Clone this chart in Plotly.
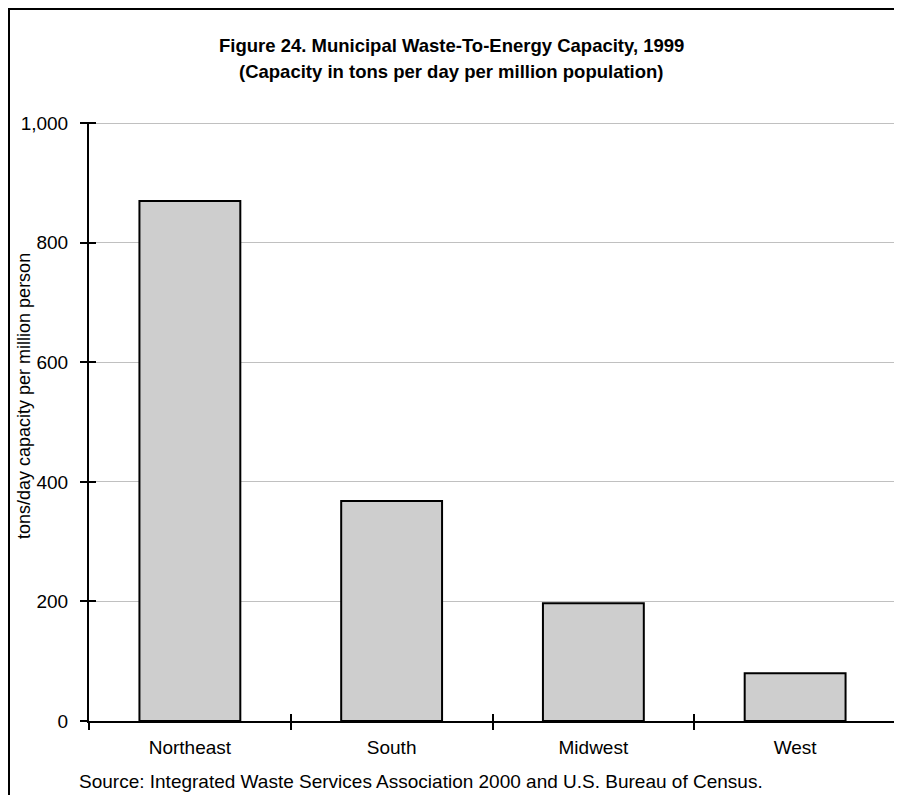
import plotly.graph_objects as go

regions = ["Northeast", "South", "Midwest", "West"]
capacity = [870, 368, 197, 80]
y_ticks = [0, 200, 400, 600, 800, 1000]
y_tick_text = ["0", "200", "400", "600", "800", "1,000"]

FONT = "Arial, Liberation Sans, sans-serif"
# page body has an 8px margin, so the figure is placed at (8, 8)
OFF = 8
W, H = 902 - OFF, 803 - 2 * OFF
L, R, T, B = 89 - OFF, 6, 114, 74
pw, ph = W - L - R, H - T - B


def px(xpage):
    return (xpage - OFF - L) / pw


def py(ypage):
    return (T + ph - (ypage - OFF)) / ph


fig = go.Figure()
fig.add_trace(go.Bar(
    x=regions, y=capacity,
    marker=dict(color="#cecece", line=dict(color="black", width=2)),
    hoverinfo="x+y",
))
# helper trace for the overlay axes (crossing ticks)
fig.add_trace(go.Scatter(
    x=regions, y=capacity, mode="none", xaxis="x2", yaxis="y2",
    hoverinfo="skip", showlegend=False,
))

axis_common = dict(showline=True, linecolor="black", linewidth=2,
                   tickcolor="black", tickwidth=2, ticklen=7, automargin=False)
YR = [0, 1002]

fig.update_layout(
    width=W, height=H,
    margin=dict(l=L, r=R, t=T, b=B),
    paper_bgcolor="white", plot_bgcolor="white",
    showlegend=False,
    bargap=0.5,
    font=dict(family=FONT, color="black", size=19),
    xaxis=dict(
        **axis_common, ticks="outside", tickson="boundaries",
        showgrid=False, zeroline=False,
        tickfont=dict(family=FONT, size=19, color="black"),
        ticklabelstandoff=8,
    ),
    yaxis=dict(
        **axis_common, ticks="outside",
        range=YR, tickvals=y_ticks, ticktext=y_tick_text,
        showgrid=True, gridcolor="#c0c0c0", gridwidth=1, zeroline=False,
        tickfont=dict(family=FONT, size=19, color="black"),
        ticklabelstandoff=8,
    ),
    xaxis2=dict(
        **axis_common, ticks="inside", tickson="boundaries", overlaying="x",
        side="bottom", anchor="y2", showticklabels=False, showgrid=False,
        zeroline=False, matches="x",
    ),
    yaxis2=dict(
        **axis_common, ticks="inside", overlaying="y", side="left", anchor="x2",
        range=YR, tickvals=y_ticks, showticklabels=False,
        showgrid=False, zeroline=False,
    ),
    annotations=[
        dict(text="<b>Figure 24. Municipal Waste-To-Energy Capacity, 1999</b>",
             xref="paper", yref="paper", x=px(451), y=py(45),
             xanchor="center", yanchor="middle", showarrow=False,
             font=dict(family=FONT, size=18.5, color="black")),
        dict(text="<b>(Capacity in tons per day per million population)</b>",
             xref="paper", yref="paper", x=px(451), y=py(72),
             xanchor="center", yanchor="middle", showarrow=False,
             font=dict(family=FONT, size=18.5, color="black")),
        dict(text="tons/day capacity per million person",
             xref="paper", yref="paper", x=px(24), y=py(396), textangle=-90,
             xanchor="center", yanchor="middle", showarrow=False,
             font=dict(family=FONT, size=18, color="black")),
        dict(text="Source: Integrated Waste Services Association 2000 and U.S. Bureau of Census.",
             xref="paper", yref="paper", x=px(77), y=py(781),
             xanchor="left", yanchor="middle", showarrow=False,
             font=dict(family=FONT, size=19, color="black")),
    ],
    shapes=[dict(
        type="rect", xref="paper", yref="paper",
        x0=px(OFF + 1), x1=px(902 + 20),
        y0=py(803 + 20), y1=py(OFF + 1),
        line=dict(color="black", width=2), fillcolor="rgba(0,0,0,0)",
        layer="above",
    )],
)

fig.write_html("out.html")
